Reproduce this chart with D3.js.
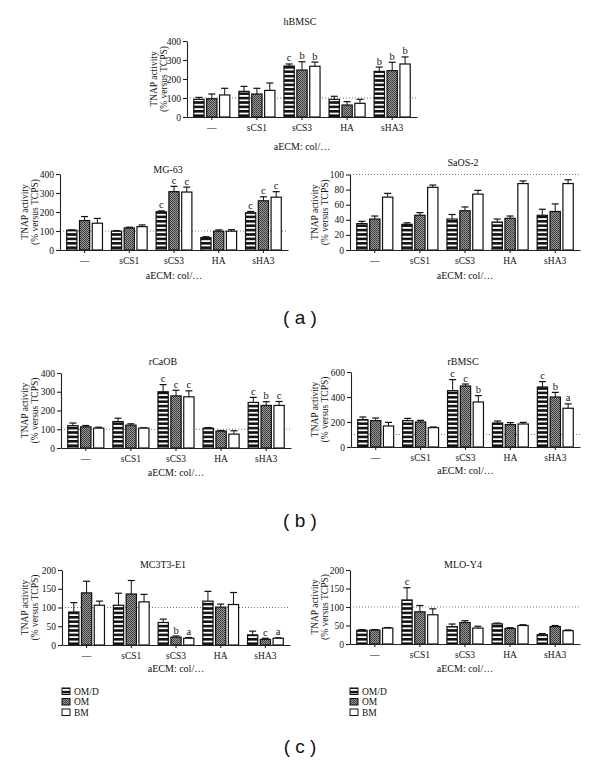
<!DOCTYPE html>
<html><head><meta charset="utf-8">
<script src="https://cdn.jsdelivr.net/npm/d3@7/dist/d3.min.js"></script>
<style>
body{margin:0;background:#fff;}
svg{display:block;}
text{font-family:"Liberation Serif","Times New Roman",serif;fill:#111;}
</style></head>
<body>
<svg id="c" width="600" height="771"></svg>
<script>
const categories = ["\u2014","sCS1","sCS3","HA","sHA3"];
const seriesNames = ["OM/D","OM","BM"];

// hBMSC
const hbmscOMD = [93,135,268,93,240], hbmscOM = [96,121,247,63,244], hbmscBM = [116,140,267,72,279];
const hbmscErrOMD = [10,26,11,16,23], hbmscErrOM = [25,30,44,18,44], hbmscErrBM = [35,39,22,21,37];
const hbmscSig = [["","",""],["","",""],["c","b","b"],["","",""],["b","b","b"]];
// MG-63
const mg63OMD = [104,99,201,65,196], mg63OM = [155,116,307,99,259], mg63BM = [141,123,305,99,278];
const mg63ErrOMD = [2,3,5,5,7], mg63ErrOM = [21,4,28,7,21], mg63ErrBM = [25,9,26,8,29];
const mg63Sig = [["","",""],["","",""],["c","c","c"],["","",""],["c","c","c"]];
// SaOS-2
const saosOMD = [35,34,41,37,46], saosOM = [41,46,52,42,51], saosBM = [70,83,74,88,88];
const saosErrOMD = [3,2,6,4,8], saosErrOM = [4,3.5,5,3,10], saosErrBM = [5,3,5,3.5,5];
const saosSig = [["","",""],["","",""],["","",""],["","",""],["","",""]];
// rCaOB
const rcaobOMD = [119,141,300,106,243], rcaobOM = [113,122,278,90,227], rcaobBM = [106,106,273,74,227];
const rcaobErrOMD = [14,18,38,3,27], rcaobErrOM = [7,7,30,3,20], rcaobErrBM = [5,2,32,18,21];
const rcaobSig = [["","",""],["","",""],["c","c","c"],["","",""],["c","b","c"]];
// rBMSC
const rbmscOMD = [219,211,451,192,480], rbmscOM = [211,200,488,179,400], rbmscBM = [168,155,360,184,310];
const rbmscErrOMD = [21,18,88,16,43], rbmscErrOM = [21,13,16,16,37], rbmscErrBM = [29,5,51,13,35];
const rbmscSig = [["","",""],["","",""],["c","c","b"],["","",""],["c","b","a"]];
// MC3T3-E1
const mc3OMD = [88,106,60,117,27], mc3OM = [139,136,21,101,15], mc3BM = [106,115,18,108,18];
const mc3ErrOMD = [25,32,9,26,10], mc3ErrOM = [31,36,3,8,3], mc3ErrBM = [11,20,2,32,1];
const mc3Sig = [["","",""],["","",""],["","b","a"],["","",""],["","c","a"]];
// MLO-Y4
const mloOMD = [37,119,47,54.5,25], mloOM = [37.5,87,58,42,47], mloBM = [43,79,43,50,36];
const mloErrOMD = [2,33,7,2,3], mloErrOM = [1.5,17,5,2,3], mloErrBM = [1.5,16,5,2,2];
const mloSig = [["","",""],["c","",""],["","",""],["","",""],["","",""]];

const hbmscTicks = [0,100,200,300,400];
const mg63Ticks = [0,100,200,300,400];
const saosTicks = [0,20,40,60,80,100];
const rcaobTicks = [0,100,200,300,400];
const rbmscTicks = [0,200,400,600];
const mc3Ticks = [0,50,100,150,200];
const mloTicks = [0,50,100,150,200];

const svg = d3.select("#c");
const defs = svg.append("defs");
// striped pattern
const ps = defs.append("pattern").attr("id","stripes").attr("patternUnits","userSpaceOnUse")
  .attr("width",4).attr("height",4.4);
ps.append("rect").attr("width",4).attr("height",4.4).attr("fill","#fff");
ps.append("rect").attr("width",4).attr("height",2.6).attr("fill","#111");
// dark checker pattern
const pc = defs.append("pattern").attr("id","checker").attr("patternUnits","userSpaceOnUse")
  .attr("width",2).attr("height",2);
pc.append("rect").attr("width",2).attr("height",2).attr("fill","#9a9a9a");
pc.append("rect").attr("width",1).attr("height",1).attr("fill","#333");
pc.append("rect").attr("x",1).attr("y",1).attr("width",1).attr("height",1).attr("fill","#444");
const fills = ["url(#stripes)","url(#checker)","#fff"];

function panel(cfg){
  const g = svg.append("g");
  const x = d3.scaleBand().domain(categories).range([cfg.x0,cfg.x1]).paddingInner(0.2).paddingOuter(0.15);
  const xs = d3.scaleBand().domain(seriesNames).range([0,x.bandwidth()]).paddingInner(0.2);
  const y = d3.scaleLinear().domain([0,cfg.max]).range([cfg.yb,cfg.yt]);
  // reference line
  g.append("line").attr("x1",cfg.x0).attr("x2",cfg.x1).attr("y1",y(100)).attr("y2",y(100))
    .attr("stroke","#777").attr("stroke-width",1).attr("stroke-dasharray","1,2");
  const vals = [cfg.omd,cfg.om,cfg.bm];
  const errs = [cfg.eomd,cfg.eom,cfg.ebm];
  categories.forEach((c,ci)=>{
    seriesNames.forEach((s,si)=>{
      const v = vals[si][ci], e = errs[si][ci];
      const bx = x(c)+xs(s), bw = xs.bandwidth();
      const cx = bx+bw/2;
      // error bar
      g.append("line").attr("x1",cx).attr("x2",cx).attr("y1",y(v)).attr("y2",y(v+e))
        .attr("stroke","#111").attr("stroke-width",1);
      g.append("line").attr("x1",cx-3.5).attr("x2",cx+3.5).attr("y1",y(v+e)).attr("y2",y(v+e))
        .attr("stroke","#111").attr("stroke-width",1.2);
      g.append("rect").attr("x",bx).attr("y",y(v)).attr("width",bw).attr("height",y(0)-y(v))
        .attr("fill",fills[si]).attr("stroke","#111").attr("stroke-width",1.2);
      const lab = cfg.sig[ci][si];
      if(lab){
        g.append("text").attr("x",cx).attr("y",y(v+e)-2.5).attr("text-anchor","middle")
          .attr("font-size",10.5).text(lab);
      }
    });
  });
  const ya = d3.axisLeft(y).tickValues(cfg.ticks).tickSize(4).tickSizeOuter(0).tickPadding(2);
  const yg = g.append("g").attr("transform",`translate(${cfg.x0},0)`).call(ya);
  yg.selectAll("text").attr("font-size",9.5).attr("font-family","Liberation Serif");
  const xa = d3.axisBottom(x).tickSize(3).tickSizeOuter(0).tickPadding(4);
  const xg = g.append("g").attr("transform",`translate(0,${cfg.yb})`).call(xa);
  xg.selectAll("text").attr("font-size",9.5).attr("font-family","Liberation Serif");
  [yg,xg].forEach(a=>{a.selectAll("path,line").attr("stroke","#222").attr("stroke-width",1.1);});
  // title
  g.append("text").attr("x",cfg.tx).attr("y",cfg.ty).attr("text-anchor","middle").attr("font-size",10).text(cfg.title);
  // x label
  g.append("text").attr("x",(cfg.x0+cfg.x1)/2).attr("y",cfg.xly).attr("text-anchor","middle").attr("font-size",10).text("aECM: col/\u2026");
  // y labels
  const yc = (cfg.yt+cfg.yb)/2;
  g.append("text").attr("transform",`translate(${cfg.ylx},${yc}) rotate(-90)`).attr("text-anchor","middle")
    .attr("font-size",9.5).text("TNAP activity");
  g.append("text").attr("transform",`translate(${cfg.ylx+10},${yc}) rotate(-90)`).attr("text-anchor","middle")
    .attr("font-size",9.5).text("(% versus TCPS)");
}

panel({title:"hBMSC",tx:300,ty:25,x0:187,x1:417,yt:41,yb:117,max:400,ticks:hbmscTicks,xly:150,ylx:157,
  omd:hbmscOMD,om:hbmscOM,bm:hbmscBM,eomd:hbmscErrOMD,eom:hbmscErrOM,ebm:hbmscErrBM,sig:hbmscSig});
panel({title:"MG-63",tx:168,ty:173,x0:60,x1:288,yt:174,yb:250,max:400,ticks:mg63Ticks,xly:279,ylx:28,
  omd:mg63OMD,om:mg63OM,bm:mg63BM,eomd:mg63ErrOMD,eom:mg63ErrOM,ebm:mg63ErrBM,sig:mg63Sig});
panel({title:"SaOS-2",tx:463,ty:166,x0:350,x1:580,yt:174.5,yb:250,max:100,ticks:saosTicks,xly:279,ylx:318,
  omd:saosOMD,om:saosOM,bm:saosBM,eomd:saosErrOMD,eom:saosErrOM,ebm:saosErrBM,sig:saosSig});
panel({title:"rCaOB",tx:163,ty:365,x0:61,x1:291,yt:373,yb:448,max:400,ticks:rcaobTicks,xly:476,ylx:28,
  omd:rcaobOMD,om:rcaobOM,bm:rcaobBM,eomd:rcaobErrOMD,eom:rcaobErrOM,ebm:rcaobErrBM,sig:rcaobSig});
panel({title:"rBMSC",tx:463,ty:365,x0:351,x1:580,yt:372,yb:447,max:600,ticks:rbmscTicks,xly:474,ylx:318,
  omd:rbmscOMD,om:rbmscOM,bm:rbmscBM,eomd:rbmscErrOMD,eom:rbmscErrOM,ebm:rbmscErrBM,sig:rbmscSig});
panel({title:"MC3T3-E1",tx:163,ty:568,x0:62,x1:290,yt:570,yb:645,max:200,ticks:mc3Ticks,xly:672,ylx:28,
  omd:mc3OMD,om:mc3OM,bm:mc3BM,eomd:mc3ErrOMD,eom:mc3ErrOM,ebm:mc3ErrBM,sig:mc3Sig});
panel({title:"MLO-Y4",tx:463,ty:568,x0:350,x1:580,yt:570,yb:644,max:200,ticks:mloTicks,xly:672,ylx:318,
  omd:mloOMD,om:mloOM,bm:mloBM,eomd:mloErrOMD,eom:mloErrOM,ebm:mloErrBM,sig:mloSig});

// legends
[62,350].forEach(lx=>{
  seriesNames.forEach((s,i)=>{
    const ly = 688 + i*10.5;
    svg.append("rect").attr("x",lx).attr("y",ly).attr("width",8).attr("height",6.5)
      .attr("fill",fills[i]).attr("stroke","#111").attr("stroke-width",1);
    svg.append("text").attr("x",lx+12).attr("y",ly+6.5).attr("font-size",9.5).text(s);
  });
});

// panel letters
[["( a )",324],["( b )",527],["( c )",753]].forEach(([t,yy])=>{
  svg.append("text").attr("x",300).attr("y",yy).attr("text-anchor","middle")
    .style("font-family","Liberation Sans, Arial, sans-serif").attr("font-size",19).text(t);
});
</script>
</body></html>
